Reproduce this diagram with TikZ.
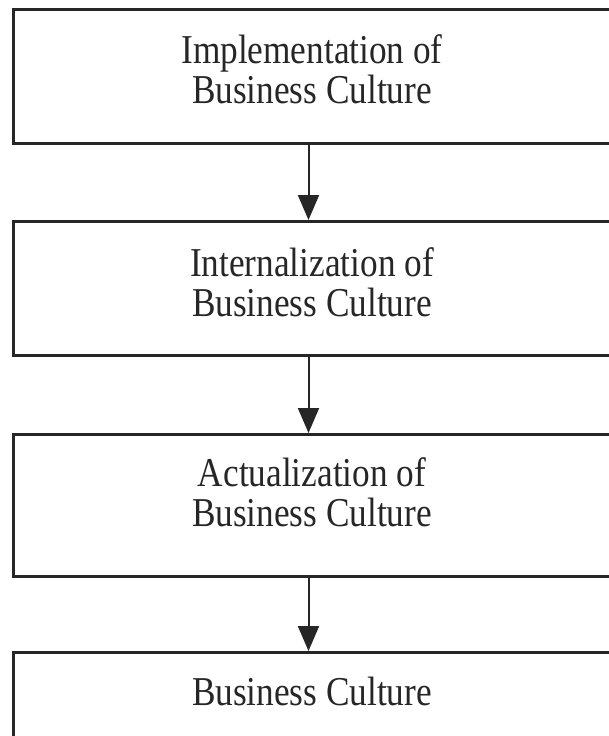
\documentclass[tikz,border=0pt]{standalone}
\usepackage{fontspec}
\setmainfont[FakeStretch=0.86]{Liberation Serif}
\usetikzlibrary{arrows.meta}
\definecolor{ink}{HTML}{262626}
\begin{document}
\begin{tikzpicture}[x=1pt,y=-1pt,
  stage/.style={draw=ink, line width=3pt, rectangle, minimum width=600pt, anchor=north west, inner sep=0pt},
  lbl/.style={anchor=base, inner sep=0pt, text=ink, font=\fontsize{41}{41}\selectfont},
  arr/.style={draw=ink, line width=2pt, -{Triangle[length=25pt,width=21pt]}}]
\clip (0,0) rectangle (609,736);
\node[stage, minimum height=134pt] (b1) at (12,7.5) {};
\node[stage, minimum height=134pt] (b2) at (12,220) {};
\node[stage, minimum height=142pt] (b3) at (12,433) {};
\node[stage, minimum height=140pt] (b4) at (12,651) {};
\node[lbl] (t1a) at (312,63) {Implementation of};
\node[lbl] (t1b) at (312,103) {Business Culture};
\node[lbl] (t2a) at (312,276) {Internalization of};
\node[lbl] (t2b) at (312,316) {Business Culture};
\node[lbl] (t3a) at (312,486) {Actualization of};
\node[lbl] (t3b) at (312,526) {Business Culture};
\node[lbl] (t4) at (312,705) {Business Culture};
\draw[arr] ([xshift=-5pt]b1.south) -- ([xshift=-5pt]b2.north);
\draw[arr] ([xshift=-5pt]b2.south) -- ([xshift=-5pt]b3.north);
\draw[arr] ([xshift=-5pt]b3.south) -- ([xshift=-5pt]b4.north);
\end{tikzpicture}
\end{document}
